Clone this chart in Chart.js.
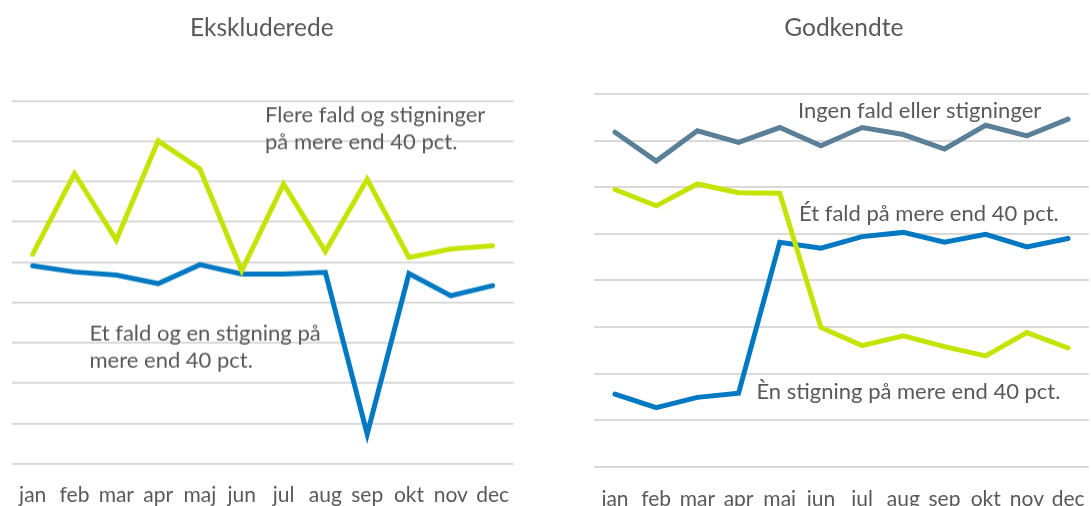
<!DOCTYPE html>
<html>
<head>
<meta charset="utf-8">
<script src="https://cdn.jsdelivr.net/npm/chart.js@4.4.1/dist/chart.umd.min.js"></script>
<style>
  html, body { margin: 0; padding: 0; background: #fff; overflow: hidden; }
  body { width: 1091px; height: 506px; position: relative; }
  #left-wrap { position: absolute; left: 0; top: 0; width: 530px; height: 525.6px; }
  #right-wrap { position: absolute; left: 560px; top: 0; width: 545px; height: 532px; }
</style>
</head>
<body>
<div id="left-wrap"><canvas id="left-chart"></canvas></div>
<div id="right-wrap"><canvas id="right-chart"></canvas></div>
<script>
// months on the x axis (same for both panels)
const months = ['jan', 'feb', 'mar', 'apr', 'maj', 'jun', 'jul', 'aug', 'sep', 'okt', 'nov', 'dec'];

// left panel - Ekskluderede
const leftTitle = 'Ekskluderede';
const flereFald = [52.0, 72.0, 55.5, 80.1, 73.1, 47.9, 69.4, 52.7, 70.6, 51.2, 53.3, 54.1];
const etFaldEnStigning = [49.1, 47.6, 46.8, 44.7, 49.4, 47.1, 47.1, 47.5, 7.4, 47.2, 41.7, 44.2];
const leftNotes = [
  ['Flere fald og stigninger', 'på mere end 40 pct.'],
  ['Et fald og en stigning på', 'mere end 40 pct.']
];

// right panel - Godkendte
const rightTitle = 'Godkendte';
const ingenFald = [71.8, 65.6, 72.1, 69.6, 72.8, 68.9, 72.8, 71.3, 68.2, 73.3, 71.0, 74.6];
const etFald = [59.5, 56.0, 60.7, 58.8, 58.7, 29.9, 26.0, 28.1, 25.8, 23.8, 28.8, 25.5];
const enStigning = [15.6, 12.7, 14.9, 15.8, 48.2, 46.9, 49.4, 50.3, 48.2, 49.9, 47.2, 49.0];
const rightNotes = [
  ['Ingen fald eller stigninger'],
  ['Ét fald på mere end 40 pct.'],
  ['Èn stigning på mere end 40 pct.']
];

const textGrey = '#595959';
const lime = '#c3e400';
const blue = '#0079c2';
const slate = '#5a7f96';

Chart.defaults.font.family = 'Lato, "Open Sans", sans-serif';
Chart.defaults.color = textGrey;

// writes the free text labels next to the lines
const notesPlugin = {
  id: 'notes',
  afterDatasetsDraw(chart, args, opts) {
    const ctx = chart.ctx;
    ctx.save();
    ctx.font = opts.size + 'px ' + Chart.defaults.font.family;
    ctx.fillStyle = textGrey;
    ctx.textBaseline = 'alphabetic';
    ctx.textAlign = 'left';
    opts.items.forEach((item, i) => {
      const pos = opts.spots[i];
      item.forEach((line, j) => {
        ctx.fillText(line, pos.x, pos.y + j * opts.lineGap);
      });
    });
    ctx.restore();
  }
};

function lineSet(label, values, color) {
  return {
    label: label,
    data: values,
    borderColor: color,
    backgroundColor: color,
    borderWidth: 5,
    pointRadius: 0,
    tension: 0,
    borderCapStyle: 'round',
    borderJoinStyle: 'miter'
  };
}

function makeChart(canvasId, title, datasets, yMax, titlePad, xPad, layoutPad, notes) {
  return new Chart(document.getElementById(canvasId), {
    type: 'line',
    data: { labels: months, datasets: datasets },
    options: {
      responsive: true,
      maintainAspectRatio: false,
      animation: false,
      layout: { padding: layoutPad },
      plugins: {
        legend: { display: false },
        tooltip: { enabled: false },
        title: {
          display: true,
          text: title,
          color: textGrey,
          font: { size: 24.5, weight: 'normal' },
          padding: titlePad
        },
        notes: notes
      },
      scales: {
        x: {
          offset: true,
          grid: { display: false, drawTicks: false },
          border: { display: false },
          ticks: { padding: xPad, font: { size: 21 }, color: textGrey, maxRotation: 0, autoSkip: false }
        },
        y: {
          min: 0,
          max: yMax,
          ticks: { display: false, stepSize: 10 },
          grid: { color: '#d9d9d9', lineWidth: 2, drawTicks: false },
          border: { display: false }
        }
      }
    },
    plugins: [notesPlugin]
  });
}

makeChart('left-chart', leftTitle, [
  lineSet('Flere fald og stigninger', flereFald, lime),
  lineSet('Et fald og en stigning', etFaldEnStigning, blue)
], 90, { top: 13.3, bottom: 58 }, 18.7, { left: 10, right: 16.5, top: 0, bottom: 0 }, {
  size: 22,
  lineGap: 27.5,
  items: leftNotes,
  spots: [{ x: 265, y: 121.7 }, { x: 89.5, y: 339.5 }]
});

makeChart('right-chart', rightTitle, [
  lineSet('Ingen fald eller stigninger', ingenFald, slate),
  lineSet('Ét fald', etFald, lime),
  lineSet('Èn stigning', enStigning, blue)
], 80, { top: 13.3, bottom: 51.3 }, 20, { left: 34.4, right: 11.8, top: 0, bottom: 0 }, {
  size: 22,
  lineGap: 28,
  items: rightNotes,
  spots: [{ x: 238, y: 117.5 }, { x: 239, y: 220.5 }, { x: 196.4, y: 398.5 }]
});
</script>
</body>
</html>
